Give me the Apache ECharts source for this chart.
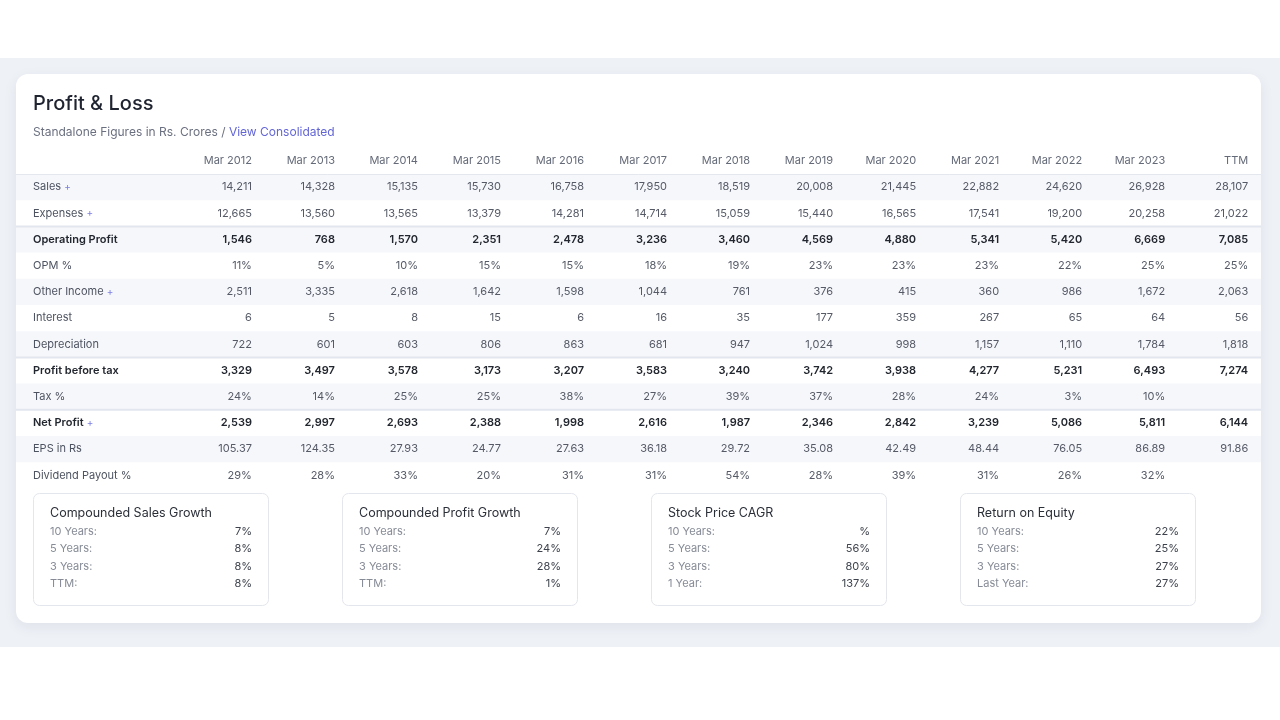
<!DOCTYPE html>
<html>
<head>
<meta charset="utf-8">
<script src="https://cdn.jsdelivr.net/npm/echarts@6/dist/echarts.min.js"></script>
<style>
html,body{margin:0;padding:0;background:#fff;}
#chart{width:1280px;height:720px;}
</style>
</head>
<body>
<div id="chart"></div>
<script>
// ---------- data ----------
const years = ['Mar 2012','Mar 2013','Mar 2014','Mar 2015','Mar 2016','Mar 2017','Mar 2018','Mar 2019','Mar 2020','Mar 2021','Mar 2022','Mar 2023','TTM'];
const rowNames = ['Sales','Expenses','Operating Profit','OPM %','Other Income','Interest','Depreciation','Profit before tax','Tax %','Net Profit','EPS in Rs','Dividend Payout %'];
const sales = [14211,14328,15135,15730,16758,17950,18519,20008,21445,22882,24620,26928,28107];
const expenses = [12665,13560,13565,13379,14281,14714,15059,15440,16565,17541,19200,20258,21022];
const operatingProfit = [1546,768,1570,2351,2478,3236,3460,4569,4880,5341,5420,6669,7085];
const opmPct = [11,5,10,15,15,18,19,23,23,23,22,25,25];
const otherIncome = [2511,3335,2618,1642,1598,1044,761,376,415,360,986,1672,2063];
const interest = [6,5,8,15,6,16,35,177,359,267,65,64,56];
const depreciation = [722,601,603,806,863,681,947,1024,998,1157,1110,1784,1818];
const profitBeforeTax = [3329,3497,3578,3173,3207,3583,3240,3742,3938,4277,5231,6493,7274];
const taxPct = [24,14,25,25,38,27,39,37,28,24,3,10,null];
const netProfit = [2539,2997,2693,2388,1998,2616,1987,2346,2842,3239,5086,5811,6144];
const epsRs = [105.37,124.35,27.93,24.77,27.63,36.18,29.72,35.08,42.49,48.44,76.05,86.89,91.86];
const dividendPayoutPct = [29,28,33,20,31,31,54,28,39,31,26,32,null];

const rowValues = [sales,expenses,operatingProfit,opmPct,otherIncome,interest,depreciation,profitBeforeTax,taxPct,netProfit,epsRs,dividendPayoutPct];
const rowKinds = ['int','int','int','pct','int','int','int','int','pct','int','dec','pct'];
const boldRows = ['Operating Profit','Profit before tax','Net Profit'];
const plusRows = ['Sales','Expenses','Other Income','Net Profit'];
const separatorRows = ['Operating Profit','Profit before tax','Net Profit'];

const boxTitles = ['Compounded Sales Growth','Compounded Profit Growth','Stock Price CAGR','Return on Equity'];
const boxLabels = [
  ['10 Years:','5 Years:','3 Years:','TTM:'],
  ['10 Years:','5 Years:','3 Years:','TTM:'],
  ['10 Years:','5 Years:','3 Years:','1 Year:'],
  ['10 Years:','5 Years:','3 Years:','Last Year:']
];
const salesGrowth = [7,8,8,8];
const profitGrowth = [7,24,28,1];
const stockPriceCagr = [null,56,80,137];
const returnOnEquity = [22,25,27,27];
const boxValues = [salesGrowth,profitGrowth,stockPriceCagr,returnOnEquity];

// ---------- helpers ----------
const FONT = 'Inter, "Noto Sans", sans-serif';
function fmt(v, kind){
  if (kind === 'pct') return (v == null ? '' : v) + '%';
  if (v == null) return '';
  if (kind === 'dec') return v.toFixed(2);
  return v.toLocaleString('en-US');
}
function fmtTable(v, kind){
  if (v == null) return '';
  return fmt(v, kind);
}

const yCats = [''].concat(rowNames);
const cells = [];
years.forEach((y, c) => cells.push({col: c, row: 0, text: y, header: true}));
rowNames.forEach((name, r) => {
  rowValues[r].forEach((v, c) => {
    cells.push({col: c, row: r + 1, text: fmtTable(v, rowKinds[r]), bold: boldRows.includes(name)});
  });
});

const TOP = 147.8, ROWH = 26.2;
const tableHeight = ROWH * yCats.length;

const grids = [
  {left: 179.5, right: 21.2, top: TOP, height: tableHeight},
  {left: 16, right: 19, top: TOP, height: tableHeight}
];
const xAxes = [
  {type: 'category', data: years, gridIndex: 0, show: false},
  {type: 'value', min: 0, max: 1, gridIndex: 1, show: false}
];
const yAxes = [
  {type: 'category', data: yCats, inverse: true, gridIndex: 0, z: 20,
   axisLine: {show: false}, axisTick: {show: false}, splitLine: {show: false},
   axisLabel: {
     interval: 0,
     align: 'left', margin: 146.5, fontFamily: FONT, fontSize: 11, color: '#4d5360',
     formatter: function(v){
       if (!v) return '';
       if (boldRows.includes(v)) return '{b|' + v + '}' + (plusRows.includes(v) ? ' {p|+}' : '');
       return '{n|' + v + '}' + (plusRows.includes(v) ? ' {p|+}' : '');
     },
     rich: {
       n: {fontFamily: FONT, fontSize: 11, color: '#4d5360'},
       b: {fontFamily: FONT, fontSize: 11, color: '#22262e', fontWeight: 600},
       p: {fontFamily: FONT, fontSize: 10, color: '#7b7fe0'}
     }
   }},
  {type: 'category', data: yCats, inverse: true, gridIndex: 1, show: false}
];

const series = [
  {
    type: 'custom', xAxisIndex: 1, yAxisIndex: 1, z: -1, silent: true,
    data: yCats.map((n, i) => [0, i]),
    renderItem: function(params, api){
      const idx = api.value(1);
      const c = api.coord([0, idx]);
      const h = api.size([0, 1])[1];
      const cs = params.coordSys;
      const top = c[1] - h / 2;
      const ch = [];
      if (idx > 0 && idx % 2 === 1) {
        ch.push({type: 'rect', shape: {x: cs.x, y: top, width: cs.width, height: h}, style: {fill: '#f6f7fb'}});
      }
      if (idx === 1) {
        ch.push({type: 'line', shape: {x1: cs.x, y1: top + 0.5, x2: cs.x + cs.width, y2: top + 0.5}, style: {stroke: '#e4e7ee', lineWidth: 1}});
      }
      if (separatorRows.includes(yCats[idx])) {
        ch.push({type: 'line', shape: {x1: cs.x, y1: top, x2: cs.x + cs.width, y2: top}, style: {stroke: '#e2e6ee', lineWidth: 2}});
      }
      return {type: 'group', children: ch};
    }
  },
  {
    type: 'custom', xAxisIndex: 0, yAxisIndex: 0, z: 3, silent: true,
    data: cells.map(c => [c.col, c.row]),
    renderItem: function(params, api){
      const cell = cells[params.dataIndex];
      const p = api.coord([api.value(0), api.value(1)]);
      const w = api.size([1, 0])[0];
      return {
        type: 'text', x: p[0] + w / 2 - 10.6, y: p[1],
        style: {
          text: cell.text, align: 'right', verticalAlign: 'middle',
          fontFamily: FONT, fontSize: 11,
          fontWeight: cell.bold ? 600 : 400,
          fill: cell.header ? '#646a78' : (cell.bold ? '#22262e' : '#555a66')
        }
      };
    }
  }
];

const graphic = [
  {type: 'rect', z: -10, silent: true, shape: {x: 0, y: 58, width: 1280, height: 589}, style: {fill: '#eef1f6'}},
  {type: 'rect', z: -8, silent: true, shape: {x: 16, y: 74, width: 1245, height: 549, r: 12},
   style: {fill: '#ffffff', shadowBlur: 14, shadowOffsetY: 4, shadowColor: 'rgba(30,40,70,0.07)'}},
  {type: 'text', z: 5, left: 33, top: 94, style: {text: 'Profit & Loss', fontFamily: FONT, fontSize: 20, fontWeight: 500, fill: '#1f2430'}},
  {type: 'text', z: 5, left: 33, top: 126, style: {
    text: '{a|Standalone Figures in Rs. Crores / }{b|View Consolidated}',
    rich: {
      a: {fontFamily: FONT, fontSize: 12, fill: '#6b7080'},
      b: {fontFamily: FONT, fontSize: 12, fill: '#6366d6'}
    }
  }}
];

const BOX_W = 235, BOX_STEP = 309;
boxTitles.forEach((t, k) => {
  const L = 33 + BOX_STEP * k;
  graphic.push({type: 'rect', z: -5, silent: true, shape: {x: L + 0.5, y: 493.5, width: BOX_W, height: 112, r: 6},
    style: {fill: '#ffffff', stroke: '#e3e6ec', lineWidth: 1}});
  graphic.push({type: 'text', z: 5, left: L + 17, top: 507, style: {text: t, fontFamily: FONT, fontSize: 12.5, fill: '#2b2f38'}});
  const gi = grids.length;
  grids.push({left: L + 17, width: BOX_W - 33, top: 522.8, height: 69.6});
  xAxes.push({type: 'value', min: 0, max: 1, gridIndex: gi, show: false});
  yAxes.push({type: 'category', data: boxLabels[k], inverse: true, gridIndex: gi, z: 20,
    axisLine: {show: false}, axisTick: {show: false}, splitLine: {show: false},
    axisLabel: {interval: 0, align: 'left', margin: 0, fontFamily: FONT, fontSize: 11, color: '#868b96'}});
  const vals = boxValues[k];
  series.push({
    type: 'custom', xAxisIndex: gi, yAxisIndex: gi, z: 3, silent: true,
    data: vals.map((v, j) => [1, j]),
    renderItem: function(params, api){
      const p = api.coord([api.value(0), api.value(1)]);
      return {type: 'text', x: p[0], y: p[1], style: {
        text: fmt(vals[params.dataIndex], 'pct'), align: 'right', verticalAlign: 'middle',
        fontFamily: FONT, fontSize: 11, fill: '#3d424c'}};
    }
  });
});

const chart = echarts.init(document.getElementById('chart'), null, {renderer: 'canvas'});
chart.setOption({
  animation: false,
  backgroundColor: '#ffffff',
  graphic: graphic,
  grid: grids,
  xAxis: xAxes,
  yAxis: yAxes,
  series: series
});
</script>
</body>
</html>
